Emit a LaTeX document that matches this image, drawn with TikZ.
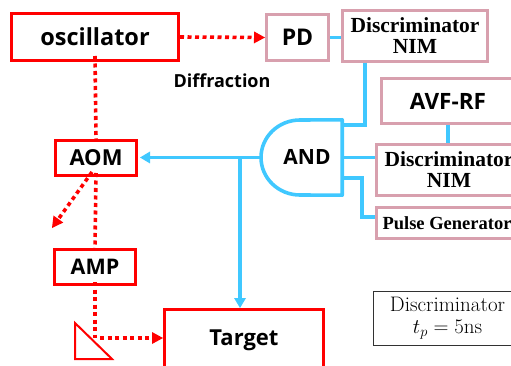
\documentclass[tikz,border=0pt]{standalone}
\usepackage{fontspec}
\usetikzlibrary{arrows.meta}
\newfontfamily\gfont{Open Sans}[BoldFont={Open Sans Bold}]
\newfontfamily\tfont{Liberation Serif}

\definecolor{laser}{RGB}{255,0,0}
\definecolor{nim}{RGB}{216,160,174}
\definecolor{sig}{RGB}{64,200,255}
\definecolor{note}{RGB}{50,50,50}

\newcommand\gsize[1]{\gfont\bfseries\fontsize{#1}{#1}\selectfont}

\tikzset{
  optbox/.style={draw=laser, line width=3pt, fill=white, inner sep=0pt,
    font=\gsize{22}},
  nimbox/.style={draw=nim, line width=3pt, fill=white, inner sep=0pt, align=center,
    font=\tfont\bfseries\fontsize{21.5}{21}\selectfont},
  beam/.style={draw=laser, line width=3.6pt, dash pattern=on 4pt off 3.5pt},
  beamarrow/.style={beam, -{Triangle[length=11pt,width=12pt,fill=laser,line width=0pt]}},
  wire/.style={draw=sig, line width=3.6pt},
  wirearrow/.style={wire, -{Triangle[length=10pt,width=12pt,fill=sig,line width=0pt]}},
}

\begin{document}
\begin{tikzpicture}[x=1pt, y=-1pt]
\useasboundingbox (0,0) rectangle (511,366);
\clip (0,0) rectangle (511,366);

% optical path
\node[optbox, minimum width=167pt, minimum height=47pt, font=\gsize{23.5}] (osc) at (95,37) {oscillator};
\node[optbox, minimum width=81pt, minimum height=35pt] (aom) at (96,158) {AOM};
\node[optbox, minimum width=81pt, minimum height=35pt, font=\gsize{21.5}] (amp) at (95,267) {AMP};
\node[optbox, minimum width=159pt, minimum height=62pt] (tgt) at (244,340.5) {\raisebox{3.5pt}{Target}};

% electronics
\node[nimbox, minimum width=62pt, minimum height=46pt, font=\gsize{23}] (pd) at (297.5,37.5) {PD};
\node[nimbox, minimum width=145pt, minimum height=51pt] (d1) at (415,36) {Discriminator\\NIM};
\node[nimbox, minimum width=133pt, minimum height=45pt, font=\gsize{22.5}] (avf) at (448,101) {AVF-RF};
\node[nimbox, minimum width=145pt, minimum height=51pt] (d2) at (449,170) {Discriminator\\NIM};
\node[nimbox, minimum width=141pt, minimum height=31pt, font=\tfont\bfseries\fontsize{18.5}{20}\selectfont] (pg) at (447,223) {Pulse Generator};

% AND gate
\node[minimum width=81pt, minimum height=75pt, inner sep=0pt] (and) at (301.5,157.5) {};
\draw[draw=sig, line width=3.6pt, fill=white, line join=round]
  (and.north east) -- (300,120) arc[start angle=90, end angle=270, x radius=39pt, y radius=37.5pt]
  -- (and.south east) -- cycle;
\node[font=\gsize{21}] at (307,157) {AND};

% note box
\node[draw=note, line width=1.3pt, minimum width=148pt, minimum height=54pt, align=center,
  font=\fontsize{21}{22}\selectfont] (note) at (447.5,318.5) {Discriminator\\$t_p=5$ns};

% label
\node[font=\gsize{18}] (dlab) at (222,81) {Diffraction};

% mirror
\draw[laser, line width=2pt, fill=white] (75,323) -- (75,359) -- (112,359) -- cycle;
\coordinate (mir) at (95,338);
\coordinate (difout) at (52,228);

% beams
\draw[beamarrow] (osc.east) -- (pd.west);
\draw[beam] ([yshift=6pt]osc.south) -- (aom.north);
\draw[beam] ([yshift=4pt]aom.south) -- (amp.north);
\draw[beamarrow] ([xshift=-4pt,yshift=5pt]aom.south) -- (difout);
\draw[beam] ([yshift=4pt]amp.south) -- (mir);
\draw[beamarrow] ([xshift=5pt]mir) -- (tgt.west |- mir);

% signal wires
\draw[wire] (pd.east) -- (d1.west |- pd.east);
\draw[wire] (d1.south -| 365,0) |- (and.east |- 0,125);
\draw[wire] (avf.south) -- (avf.south |- d2.north);
\draw[wire] (and.east) -- (d2.west |- and.east);
\draw[wire] (and.east |- 0,178) -| (362,217) -- (pg.west |- 0,217);
\coordinate (br) at (240,157.5);
\draw[wirearrow] (and.west) -- ([xshift=2pt]aom.east |- and.west);
\draw[wirearrow] (br) -- (br |- tgt.north);
\end{tikzpicture}
\end{document}
